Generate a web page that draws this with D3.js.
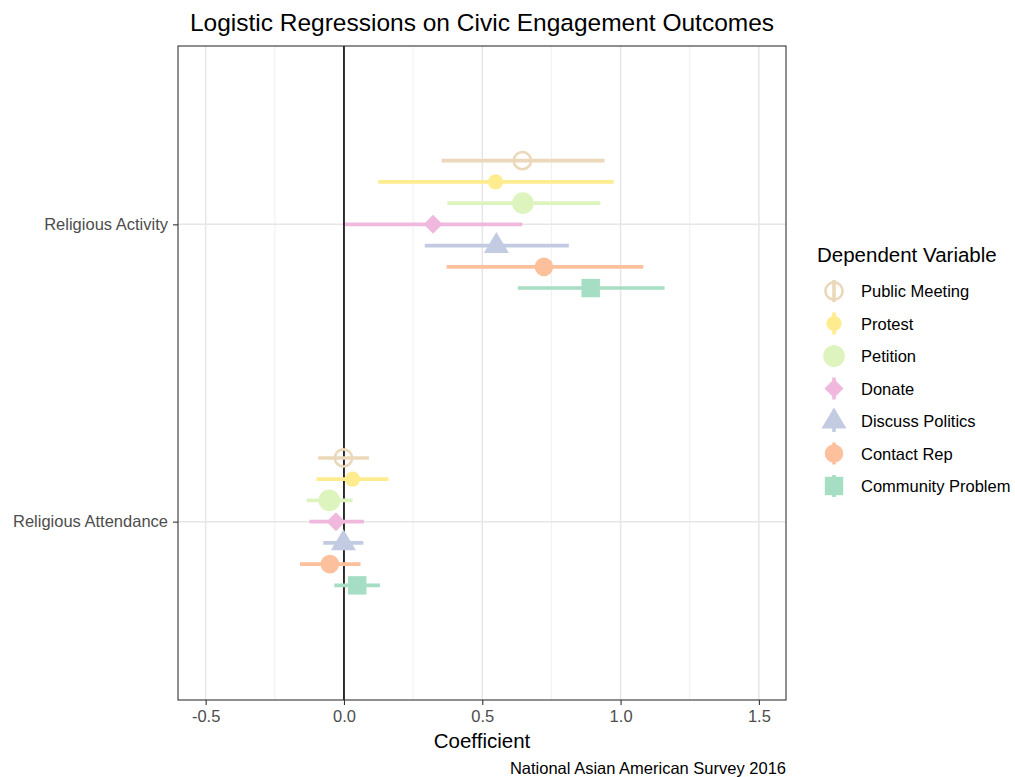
<!DOCTYPE html>
<html>
<head>
<meta charset="utf-8">
<script src="https://cdn.jsdelivr.net/npm/d3@7"></script>
<style>
  body { margin: 0; background: #fff; }
  text { font-family: "Liberation Sans", Arial, Helvetica, sans-serif; }
</style>
</head>
<body>
<svg id="chart" width="1015" height="777"></svg>
<script>
// ---- data ----
const predictors = ["Religious Activity", "Religious Attendance"];
const outcomes = ["Public Meeting", "Protest", "Petition", "Donate", "Discuss Politics", "Contact Rep", "Community Problem"];
// estimates per outcome, for [Religious Activity, Religious Attendance]
const estimate = [
  [0.645, -0.002],
  [0.548, 0.031],
  [0.647, -0.053],
  [0.322, -0.029],
  [0.551, -0.002],
  [0.723, -0.051],
  [0.892, 0.048]
];
const lower = [
  [0.353, -0.093],
  [0.124, -0.099],
  [0.374, -0.135],
  [0.004, -0.125],
  [0.292, -0.075],
  [0.371, -0.159],
  [0.629, -0.035]
];
const upper = [
  [0.942, 0.090],
  [0.975, 0.161],
  [0.927, 0.031],
  [0.645, 0.072],
  [0.813, 0.070],
  [1.082, 0.060],
  [1.159, 0.130]
];
const xTicks = [-0.5, 0, 0.5, 1.0, 1.5];
const xMinor = [-0.25, 0.25, 0.75, 1.25];
const colors = ["#EBD8BA", "#FFEC8F", "#DDF4BF", "#F0B8DD", "#C2CBE1", "#FDC09C", "#A6DEC3"];
const shapes = ["ring", "smallcircle", "bigcircle", "diamond", "triangle", "circle", "square"];

const title = "Logistic Regressions on Civic Engagement Outcomes";
const xTitle = "Coefficient";
const legendTitle = "Dependent Variable";
const caption = "National Asian American Survey 2016";

// ---- layout ----
const svg = d3.select("#chart");
const P = { left: 178, right: 786, top: 46, bottom: 700 };

const x = d3.scaleLinear().domain([-0.6, 1.598]).range([P.left, P.right]);
const y = d3.scalePoint().domain(predictors).range([P.top, P.bottom]).padding(0.6);
const dodge = d3.scaleBand().domain(outcomes).range([-y.step() * 0.25, y.step() * 0.25]);

const rows = [];
outcomes.forEach((o, i) => predictors.forEach((p, j) => {
  rows.push({ outcome: o, i, predictor: p, est: estimate[i][j], lo: lower[i][j], hi: upper[i][j] });
}));

// panel background
svg.append("rect").attr("x", P.left).attr("y", P.top)
  .attr("width", P.right - P.left).attr("height", P.bottom - P.top).attr("fill", "#fff");

// grid
const grid = svg.append("g");
grid.selectAll(".minor").data(xMinor).enter().append("line")
  .attr("x1", d => x(d)).attr("x2", d => x(d)).attr("y1", P.top).attr("y2", P.bottom)
  .attr("stroke", "#ebebeb").attr("stroke-width", 0.8);
grid.selectAll(".major").data(xTicks).enter().append("line")
  .attr("x1", d => x(d)).attr("x2", d => x(d)).attr("y1", P.top).attr("y2", P.bottom)
  .attr("stroke", "#e6e6e6").attr("stroke-width", 1.5);
grid.selectAll(".hmajor").data(predictors).enter().append("line")
  .attr("x1", P.left).attr("x2", P.right).attr("y1", d => y(d)).attr("y2", d => y(d))
  .attr("stroke", "#e6e6e6").attr("stroke-width", 1.5);

// zero line
svg.append("line").attr("x1", x(0)).attr("x2", x(0)).attr("y1", P.top).attr("y2", P.bottom)
  .attr("stroke", "#000").attr("stroke-width", 1.6);

// symbol drawing
function drawShape(g, shape, color) {
  switch (shape) {
    case "ring":
      g.append("circle").attr("r", 8.6).attr("fill", "none").attr("stroke", color).attr("stroke-width", 2.6); break;
    case "smallcircle":
      g.append("circle").attr("r", 7.6).attr("fill", color); break;
    case "bigcircle":
      g.append("circle").attr("r", 10.8).attr("fill", color); break;
    case "circle":
      g.append("circle").attr("r", 9.3).attr("fill", color); break;
    case "diamond":
      g.append("path").attr("d", "M0,-9.5L9.5,0L0,9.5L-9.5,0Z").attr("fill", color); break;
    case "triangle":
      g.append("path").attr("d", "M0,-13.5L12.5,7.5L-12.5,7.5Z").attr("fill", color); break;
    case "square":
      g.append("rect").attr("x", -9.2).attr("y", -9.2).attr("width", 18.4).attr("height", 18.4).attr("fill", color); break;
  }
}

// marks
const marks = svg.append("g");
rows.forEach(r => {
  const cy = y(r.predictor) + dodge(r.outcome) + dodge.bandwidth() / 2;
  marks.append("line")
    .attr("x1", x(r.lo)).attr("x2", x(r.hi)).attr("y1", cy).attr("y2", cy)
    .attr("stroke", colors[r.i]).attr("stroke-width", 3.6);
  const g = marks.append("g").attr("transform", `translate(${x(r.est)},${cy})`);
  drawShape(g, shapes[r.i], colors[r.i]);
});

// panel border
svg.append("rect").attr("x", P.left).attr("y", P.top)
  .attr("width", P.right - P.left).attr("height", P.bottom - P.top)
  .attr("fill", "none").attr("stroke", "#333").attr("stroke-width", 1.1);

// x axis
const xAxis = svg.append("g").attr("transform", `translate(0,${P.bottom})`)
  .call(d3.axisBottom(x).tickValues(xTicks).tickFormat(d3.format(".1f")).tickSize(5).tickPadding(5));
xAxis.select(".domain").remove();
xAxis.selectAll(".tick line").attr("stroke", "#333").attr("stroke-width", 1.1);
xAxis.selectAll(".tick text").attr("fill", "#4d4d4d").attr("font-size", "16.5px")
  .text(d => d < 0 ? "-" + d3.format(".1f")(-d) : d3.format(".1f")(d));

// y axis
const yAxis = svg.append("g").attr("transform", `translate(${P.left},0)`)
  .call(d3.axisLeft(y).tickSize(5).tickPadding(5));
yAxis.select(".domain").remove();
yAxis.selectAll(".tick line").attr("stroke", "#333").attr("stroke-width", 1.1);
yAxis.selectAll(".tick text").attr("fill", "#4d4d4d").attr("font-size", "16.5px");

// titles
svg.append("text").attr("x", (P.left + P.right) / 2).attr("y", 31)
  .attr("text-anchor", "middle").attr("font-size", "24.5px").attr("fill", "#000").text(title);
svg.append("text").attr("x", (P.left + P.right) / 2).attr("y", 748)
  .attr("text-anchor", "middle").attr("font-size", "20.5px").attr("fill", "#000").text(xTitle);
svg.append("text").attr("x", P.right).attr("y", 774)
  .attr("text-anchor", "end").attr("font-size", "16.5px").attr("fill", "#000").text(caption);

// legend
const leg = svg.append("g");
leg.append("text").attr("x", 817).attr("y", 262).attr("font-size", "20.5px").attr("fill", "#000").text(legendTitle);
outcomes.forEach((o, i) => {
  const cy = 291 + i * 32.5;
  const g = leg.append("g").attr("transform", `translate(834,${cy})`);
  g.append("line").attr("x1", 0).attr("x2", 0).attr("y1", -11).attr("y2", 11)
    .attr("stroke", colors[i]).attr("stroke-width", 3.6);
  drawShape(g, shapes[i], colors[i]);
  leg.append("text").attr("x", 861).attr("y", cy + 6).attr("font-size", "16.5px").attr("fill", "#000").text(o);
});
</script>
</body>
</html>
